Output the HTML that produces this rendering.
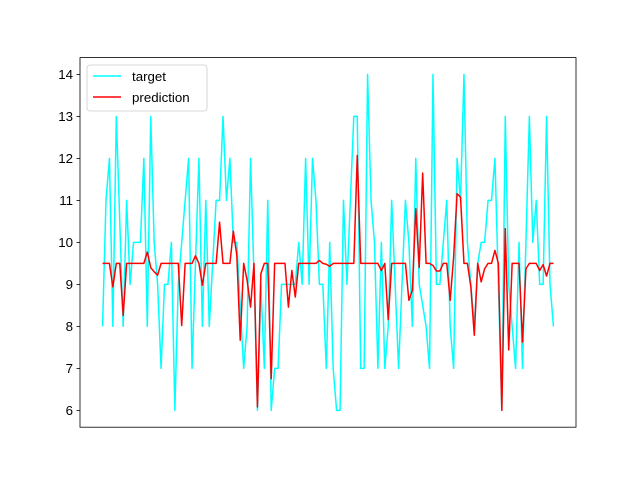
<!DOCTYPE html>
<html><head><meta charset="utf-8"><style>
html,body{margin:0;padding:0;background:#fff;}
svg{display:block;font-family:"Liberation Sans","DejaVu Sans",sans-serif;}
</style></head><body>
<svg id="chart" width="640" height="480" viewBox="0 0 640 480">
<rect x="0" y="0" width="640" height="480" fill="#fff"/>
<g id="yaxis"></g>
<g id="series"></g>
<rect x="80" y="57.6" width="496" height="369.6" fill="none" stroke="#000" stroke-width="0.8"/>
<g>
<rect x="87" y="65" width="120" height="46" rx="3" fill="#fff" fill-opacity="0.8" stroke="#ccc" stroke-width="0.8"/>
<line x1="93" y1="76" x2="121" y2="76" stroke="#00ffff" stroke-width="1.5"/>
<text x="132" y="81" font-size="13.3" fill="#000">target</text>
<line x1="93" y1="97" x2="121" y2="97" stroke="#ff0000" stroke-width="1.5"/>
<text x="132" y="102" font-size="13.3" fill="#000">prediction</text>
</g>
</svg>
<script>
const yTicks = [6,7,8,9,10,11,12,13,14];
const target = [8,11,12,8,13,10.5,8,11,9,10,10,10,12,8,13,10,9,7,9,9,10,6,9,10,11,12,7,9.5,12,8,11,8,9.5,11,11,13,11,12,10,10,8.5,7,8,12,9.2,6,9,7,11,6,7,7,9,9,9,9,9,10,9,12,9,12,11,9,9,7,10,7,6,6,11,9,11,13,13,7,7,14,11,10,7,10,7,8,11,9,7,9,11,10,8,12,9,8.5,8,7,14,9,9,10,11,8,7,12,11,14,10,9,8,9.5,10,10,11,11,12,9,6,13,9,8,7,10,7,10,13,10,11,9,9,13,9,8];
const prediction = [9.5,9.5,9.5,8.94,9.5,9.5,8.26,9.5,9.5,9.5,9.5,9.5,9.5,9.77,9.4,9.3,9.22,9.5,9.5,9.5,9.5,9.5,9.5,8.02,9.5,9.5,9.5,9.68,9.5,8.98,9.5,9.5,9.5,9.5,10.48,9.5,9.5,9.5,10.27,9.7,7.67,9.5,9.1,8.46,9.5,6.08,9.25,9.5,9.5,6.75,9.5,9.5,9.5,9.5,8.46,9.33,8.7,9.5,9.5,9.5,9.5,9.5,9.5,9.57,9.5,9.48,9.43,9.5,9.5,9.5,9.5,9.5,9.5,9.5,12.07,9.5,9.5,9.5,9.5,9.5,9.5,9.33,9.5,8.16,9.5,9.5,9.5,9.5,9.5,8.62,8.86,10.8,9.4,11.65,9.5,9.5,9.45,9.32,9.32,9.5,9.5,8.62,9.65,11.16,11.08,9.5,9.5,8.94,7.79,9.5,9.06,9.37,9.5,9.5,9.81,9.5,6,10.33,7.44,9.5,9.5,9.5,7.63,9.37,9.5,9.5,9.5,9.33,9.47,9.2,9.5,9.5];

const NS='http://www.w3.org/2000/svg';
const L=80,R=576,T=57.6,B=427.2;
const n=target.length;
const xMin=-0.05*(n-1), xMax=(n-1)*1.05;
const yMin=5.6, yMax=14.4;
function xs(i){return L+(i-xMin)/(xMax-xMin)*(R-L);}
function ys(v){return B-(v-yMin)/(yMax-yMin)*(B-T);}

const yaxis=document.getElementById('yaxis');
yTicks.forEach(t=>{
  const y=ys(t);
  const ln=document.createElementNS(NS,'line');
  ln.setAttribute('x1',L-3.5);ln.setAttribute('x2',L);ln.setAttribute('y1',y);ln.setAttribute('y2',y);
  ln.setAttribute('stroke','#000');ln.setAttribute('stroke-width','0.8');
  
  
  yaxis.appendChild(ln);
  const tx=document.createElementNS(NS,'text');
  tx.setAttribute('x',L-7);tx.setAttribute('y',y+4.5);tx.setAttribute('text-anchor','end');
  tx.setAttribute('font-size','13.3');tx.textContent=t;
  
  
  yaxis.appendChild(tx);
});

const series=document.getElementById('series');
function drawLine(arr,color,name){
  const p=document.createElementNS(NS,'polyline');
  p.setAttribute('points',arr.map((v,i)=>xs(i).toFixed(2)+','+ys(v).toFixed(2)).join(' '));
  p.setAttribute('fill','none');p.setAttribute('stroke',color);p.setAttribute('stroke-width','1.5');
  p.setAttribute('stroke-linejoin','round');
  
  
  series.appendChild(p);
}
drawLine(target,'#00ffff','target-line');
drawLine(prediction,'#ff0000','prediction-line');
</script>
</body></html>
